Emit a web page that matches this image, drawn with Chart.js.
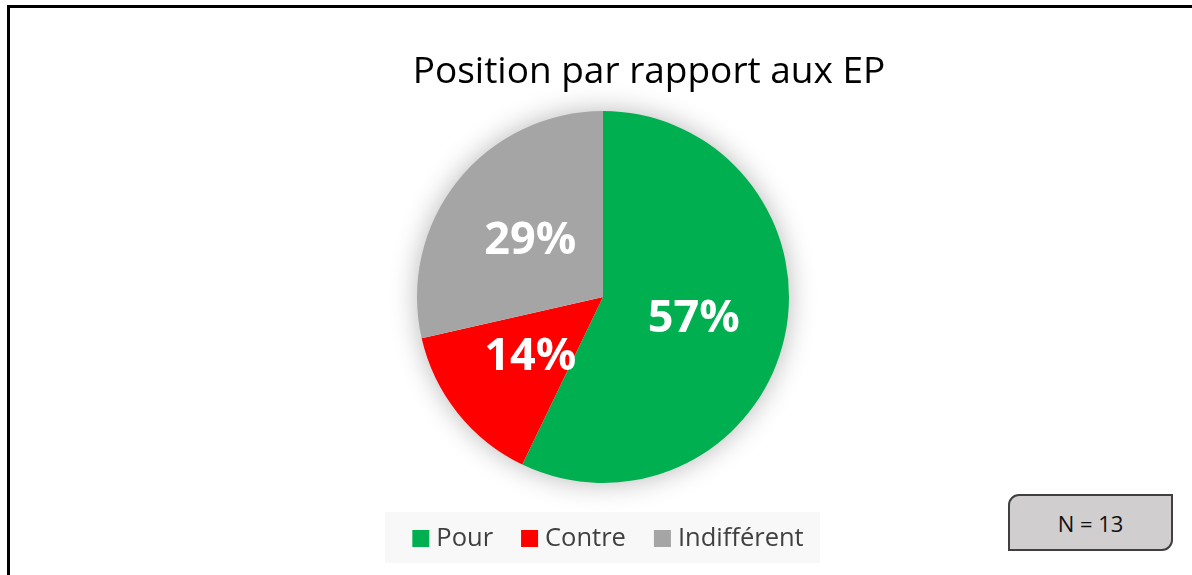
<!DOCTYPE html>
<html>
<head>
<meta charset="utf-8">
<script src="https://cdn.jsdelivr.net/npm/chart.js@4.4.4/dist/chart.umd.min.js"></script>
<style>
  html, body { margin: 0; padding: 0; background: #fff; overflow: hidden; }
  #wrap { position: relative; width: 1192px; height: 575px; }
  #frame { position: absolute; left: 7px; top: 5px; width: 1200px; height: 600px; border: 3px solid #000; box-sizing: border-box; }
  #chart { position: absolute; left: 0; top: 0; }
  #nbox {
    position: absolute; left: 1008px; top: 494px; width: 165px; height: 57px; box-sizing: border-box;
    background: #d0cece; border: 2px solid #404040; border-radius: 11px 0 11px 0;
    font: 22px "Open Sans", sans-serif; color: #111; display: flex; align-items: center; justify-content: center;
  }
</style>
</head>
<body>
<div id="wrap">
  <div id="frame"></div>
  <canvas id="chart" width="1192" height="575"></canvas>
  <div id="nbox">N = 13</div>
</div>
<script>
const title = 'Position par rapport aux EP';
const categories = ['Pour', 'Contre', 'Indifférent'];
const shares = [57.14, 14.29, 28.57];
const pctLabels = ['57%', '14%', '29%'];
const colors = ['#00b050', '#ff0000', '#a5a5a5'];

// soft grey shadow behind the pie, then title, slice labels and a boxed legend
const decor = {
  id: 'decor',
  beforeDatasetsDraw(chart) {
    const arc = chart.getDatasetMeta(0).data[0];
    if (!arc) return;
    const { ctx } = chart;
    ctx.save();
    ctx.shadowColor = 'rgba(0,0,0,0.30)';
    ctx.shadowBlur = 28;
    ctx.fillStyle = '#fff';
    ctx.beginPath();
    ctx.arc(arc.x, arc.y, arc.outerRadius - 1, 0, Math.PI * 2);
    ctx.fill();
    ctx.restore();
  },
  afterDatasetsDraw(chart) {
    const { ctx } = chart;
    const meta = chart.getDatasetMeta(0);
    ctx.save();
    ctx.fillStyle = '#fff';
    ctx.font = 'bold 45px "Open Sans", sans-serif';
    ctx.textAlign = 'center';
    ctx.textBaseline = 'middle';
    meta.data.forEach((a, i) => {
      const mid = (a.startAngle + a.endAngle) / 2;
      const r = a.outerRadius * 0.5;
      ctx.fillText(pctLabels[i], a.x + Math.cos(mid) * r, a.y + Math.sin(mid) * r + 2);
    });

    // title
    ctx.fillStyle = '#000';
    ctx.font = '37px "Open Sans", sans-serif';
    ctx.fillText(title, 649, 72);

    // legend
    ctx.fillStyle = '#f8f8f8';
    ctx.fillRect(385, 512, 435, 51);
    ctx.font = '25.5px "Open Sans", sans-serif';
    ctx.textAlign = 'left';
    const sq = 17, gapIn = 7, gapOut = 28;
    const widths = categories.map((c) => ctx.measureText(c).width);
    const total = widths.reduce((s, w) => s + sq + gapIn + w, 0) + gapOut * (categories.length - 1);
    let x = 608 - total / 2;
    categories.forEach((c, i) => {
      ctx.fillStyle = colors[i];
      ctx.fillRect(x, 530, sq, sq);
      ctx.fillStyle = '#404040';
      ctx.fillText(c, x + sq + gapIn, 539);
      x += sq + gapIn + widths[i] + gapOut;
    });
    ctx.restore();
  },
};

new Chart(document.getElementById('chart'), {
  type: 'pie',
  data: {
    labels: categories,
    datasets: [{ data: shares, backgroundColor: colors, borderWidth: 0, hoverOffset: 0 }],
  },
  options: {
    responsive: false,
    animation: false,
    layout: { padding: { top: 111, bottom: 92, left: 417, right: 403 } },
    plugins: { legend: { display: false }, title: { display: false }, tooltip: { enabled: false } },
  },
  plugins: [decor],
});
</script>
</body>
</html>
